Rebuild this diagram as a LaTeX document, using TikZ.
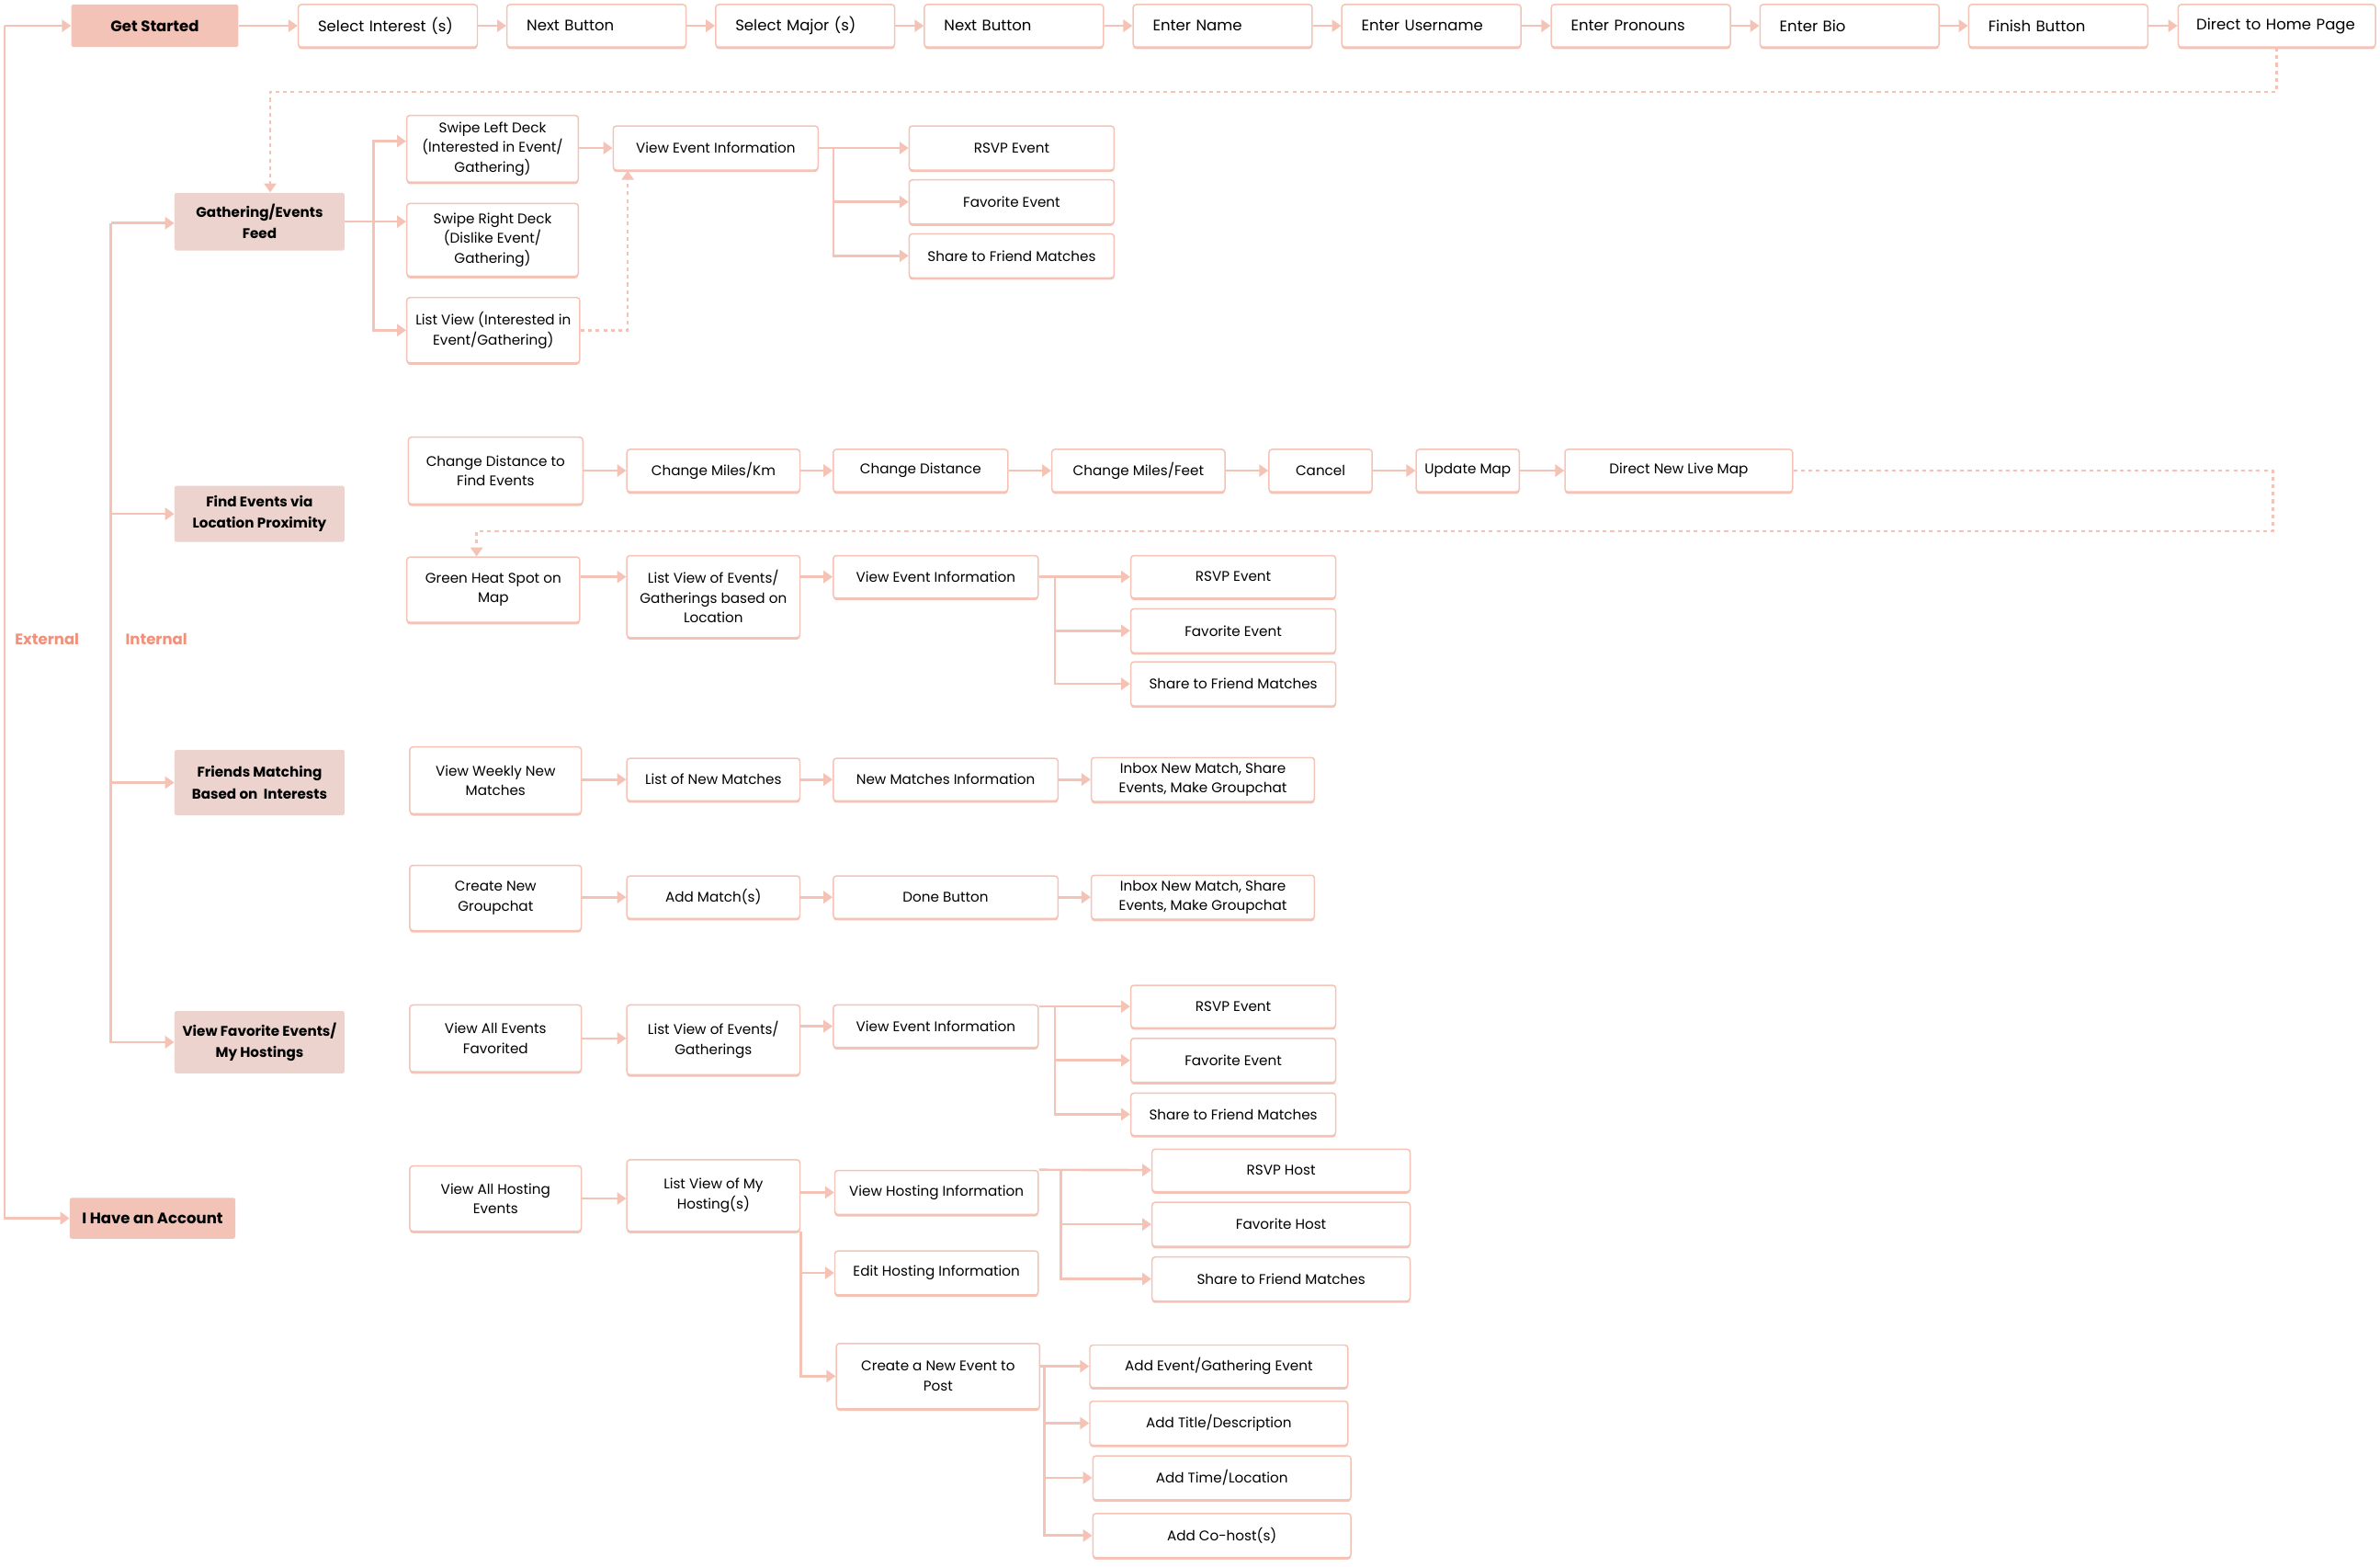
\documentclass[tikz,border=0pt]{standalone}
\usepackage{fontspec}
\setmainfont{Poppins}
\usepackage{tikz}
\usetikzlibrary{arrows.meta,shadows}

\definecolor{boxline}{HTML}{F4C3B6}
\definecolor{startfill}{HTML}{F2C3B6}
\definecolor{secfill}{HTML}{ECD3CD}
\definecolor{sidetext}{HTML}{EF917C}

\tikzset{
  box/.style={draw=boxline, line width=0.9pt, fill=white, rounded corners=2pt, align=center,
    inner sep=1.5pt, font=\fontsize{9.2}{13}\selectfont,
    drop shadow={shadow xshift=0pt, shadow yshift=-1.3pt, fill=boxline, opacity=1}},
  sz/.style 2 args={minimum width=#1pt, minimum height=#2pt},
  topbox/.style={box, font=\fontsize{10}{12}\selectfont, text width=92pt, align=left,
    inner xsep=13pt, minimum height=28pt},
  startbox/.style={fill=startfill, rounded corners=1pt, font=\bfseries\fontsize{10}{12}\selectfont},
  section/.style={fill=secfill, rounded corners=1pt, align=center, inner sep=2pt,
    font=\bfseries\fontsize{9.2}{14}\selectfont},
  link/.style={draw=boxline, line width=1.6pt},
  flow/.style={link, -{Triangle[length=6pt,width=8pt]}},
  jump/.style={flow, line width=1.6pt, dash pattern=on 2.5pt off 2.5pt},
  side/.style={text=sidetext, font=\bfseries\fontsize{10}{12}\selectfont}
}

\begin{document}
\begin{tikzpicture}[x=1pt,y=1pt]
\useasboundingbox (0,0) rectangle (1568,-1032);

% onboarding row
\node[startbox, sz={110}{28}] (gs) at (102,-17) {Get Started};
\node[topbox] (t1) at (255.5,-17) {Select Interest (s)};
\node[topbox] (t2) at (393,-17) {Next Button};
\node[topbox] (t3) at (530.5,-17) {Select Major (s)};
\node[topbox] (t4) at (668,-17) {Next Button};
\node[topbox] (t5) at (805.5,-17) {Enter Name};
\node[topbox] (t6) at (943,-17) {Enter Username};
\node[topbox] (t7) at (1081,-17) {Enter Pronouns};
\node[topbox] (t8) at (1218.5,-17) {Enter Bio};
\node[topbox] (t9) at (1356,-17) {Finish Button};
\node[topbox, text width=106pt, inner xsep=12pt] (t10) at (1500,-17) {Direct to Home Page};
\draw[flow] (gs) -- (t1);
\draw[flow] (t1) -- (t2);
\draw[flow] (t2) -- (t3);
\draw[flow] (t3) -- (t4);
\draw[flow] (t4) -- (t5);
\draw[flow] (t5) -- (t6);
\draw[flow] (t6) -- (t7);
\draw[flow] (t7) -- (t8);
\draw[flow] (t8) -- (t9);
\draw[flow] (t9) -- (t10);

% gathering/events feed
\node[section, sz={112}{38}] (gef) at (171,-146) {Gathering/Events\\Feed};
\node[box, sz={113}{44}] (sld) at (324.5,-98) {Swipe Left Deck\\(Interested in Event/\\Gathering)};
\node[box, sz={113}{48}] (srd) at (324.5,-158) {Swipe Right Deck\\(Dislike Event/\\Gathering)};
\node[box, sz={114}{43}] (lvg) at (325,-217.5) {List View (Interested in\\Event/Gathering)};
\node[box, sz={135}{29}] (vei1) at (471.5,-97.5) {View Event Information};
\node[box, sz={135}{29}] (rsvp1) at (666.5,-97.5) {RSVP Event};
\node[box, sz={135}{29}] (fav1) at (666.5,-133) {Favorite Event};
\node[box, sz={135}{29}] (share1) at (666.5,-168.5) {Share to Friend Matches};
\coordinate (gefb) at (246,-146);
\coordinate (vei1b) at (549,-97.5);
\draw[link] (gef.east) -- (gefb);
\draw[flow] (gefb) |- ([yshift=5pt]sld.west);
\draw[flow] (gefb) -- (srd.west |- gefb);
\draw[flow] (gefb) |- (lvg);
\draw[flow] (sld.east |- vei1) -- (vei1);
\draw[jump] (lvg.east) -| ([xshift=10pt]vei1.south west);
\draw[link] (vei1.east) -- (vei1b);
\draw[flow] (vei1b) -- (rsvp1);
\draw[flow] (vei1b) |- (fav1);
\draw[flow] (vei1b) |- (share1);
\draw[jump] (t10.south) -- ++(0,-29) -| ([xshift=7pt]gef.north);

% find events via location
\node[section, sz={112}{37}] (fe) at (171,-338.5) {Find Events via\\Location Proximity};
\node[box, sz={115}{44}] (cd) at (326.5,-310) {Change Distance to\\Find Events};
\node[box, sz={114}{28}] (cmk) at (470,-310) {Change Miles/Km};
\node[box, sz={115}{28}] (cdist) at (606.5,-310) {Change Distance};
\node[box, sz={114}{28}] (cmf) at (750,-310) {Change Miles/Feet};
\node[box, sz={68}{28}] (cancel) at (870,-310) {Cancel};
\node[box, sz={68}{28}] (upd) at (967,-310) {Update Map};
\node[box, sz={150}{28}] (dnlm) at (1106,-310) {Direct New Live Map};
\draw[flow] (cd) -- (cmk);
\draw[flow] (cmk) -- (cdist);
\draw[flow] (cdist) -- (cmf);
\draw[flow] (cmf) -- (cancel);
\draw[flow] (cancel) -- (upd);
\draw[flow] (upd) -- (dnlm);
\node[box, sz={114}{43}] (ghs) at (325,-388.5) {Green Heat Spot on\\Map};
\node[box, sz={114}{54}] (lve) at (470,-393) {List View of Events/\\Gatherings based on\\Location};
\node[box, sz={135}{28}] (vei2) at (616.5,-380) {View Event Information};
\node[box, sz={135}{28}] (rsvp2) at (812.5,-380) {RSVP Event};
\node[box, sz={135}{29}] (fav2) at (812.5,-415.5) {Favorite Event};
\node[box, sz={135}{29}] (share2) at (812.5,-450.5) {Share to Friend Matches};
\coordinate (vei2b) at (695,-380);
\draw[jump] (dnlm.east) -- ++(316,0) -- ++(0,-40) -| ([xshift=-11pt]ghs.north);
\draw[flow] (ghs.east |- vei2) -- (lve.west |- vei2);
\draw[flow] (lve.east |- vei2) -- (vei2);
\draw[link] (vei2.east) -- (vei2b);
\draw[flow] (vei2b) -- (rsvp2);
\draw[flow] (vei2b) |- (fav2);
\draw[flow] (vei2b) |- (share2);

% friends matching
\node[section, sz={112}{43}] (fm) at (171,-515.5) {Friends Matching\\Based on~ Interests};
\node[box, sz={113}{44}] (vwm) at (326.5,-514) {View Weekly New\\Matches};
\node[box, sz={114}{28}] (lnm) at (470,-513.5) {List of New Matches};
\node[box, sz={148}{28}] (nmi) at (623,-513.5) {New Matches Information};
\node[box, sz={147}{29}] (inb1) at (792.5,-513.5) {Inbox New Match, Share\\Events, Make Groupchat};
\draw[flow] (vwm.east |- lnm) -- (lnm);
\draw[flow] (lnm) -- (nmi);
\draw[flow] (nmi) -- (inb1);
\node[box, sz={113}{43}] (cng) at (326.5,-591.5) {Create New\\Groupchat};
\node[box, sz={114}{28}] (am) at (470,-591) {Add Match(s)};
\node[box, sz={148}{28}] (done) at (623,-591) {Done Button};
\node[box, sz={147}{29}] (inb2) at (792.5,-591) {Inbox New Match, Share\\Events, Make Groupchat};
\draw[flow] (cng.east |- am) -- (am);
\draw[flow] (am) -- (done);
\draw[flow] (done) -- (inb2);

% favorites and hostings
\node[section, sz={112}{41}] (vf) at (171,-686.5) {View Favorite Events/\\My Hostings};
\node[box, sz={113}{44}] (vaef) at (326.5,-684) {View All Events\\Favorited};
\node[box, sz={114}{46}] (lveg) at (470,-685) {List View of Events/\\Gatherings};
\node[box, sz={135}{28}] (vei3) at (616.5,-676) {View Event Information};
\node[box, sz={135}{28}] (rsvp3) at (812.5,-663) {RSVP Event};
\node[box, sz={135}{29}] (fav3) at (812.5,-698.5) {Favorite Event};
\node[box, sz={135}{28}] (share3) at (812.5,-734) {Share to Friend Matches};
\coordinate (vei3b) at (695,-663);
\draw[flow] (vaef) -- (lveg.west |- vaef);
\draw[flow] (lveg.east |- vei3) -- (vei3);
\draw[flow] (vei3.north east |- rsvp3) -- (rsvp3);
\draw[flow] (vei3b) |- (fav3);
\draw[flow] (vei3b) |- (share3);

% account holders
\node[startbox, sz={109}{27}] (iha) at (100.5,-802.5) {I Have an Account};
\node[box, sz={113}{43}] (vah) at (326.5,-789.5) {View All Hosting\\Events};
\node[box, sz={114}{47}] (lvmh) at (470,-787.5) {List View of My\\Hosting(s)};
\node[box, sz={134}{29}] (vhi) at (617,-785.5) {View Hosting Information};
\node[box, sz={134}{29}] (ehi) at (617,-838.5) {Edit Hosting Information};
\node[box, sz={134}{43}] (cne) at (618,-906.5) {Create a New Event to\\Post};
\node[box, sz={170}{28}] (rh) at (844,-771) {RSVP Host};
\node[box, sz={170}{29}] (fh) at (844,-806.5) {Favorite Host};
\node[box, sz={170}{29}] (sh) at (844,-842.5) {Share to Friend Matches};
\node[box, sz={170}{28}] (aeg) at (803,-900) {Add Event/Gathering Event};
\node[box, sz={170}{29}] (atd) at (803,-937.5) {Add Title/Description};
\node[box, sz={170}{29}] (atl) at (805,-973.5) {Add Time/Location};
\node[box, sz={170}{29}] (ach) at (805,-1011.5) {Add Co-host(s)};
\coordinate (vhib) at (699,-771);
\coordinate (cneb) at (688,-900);
\draw[flow] (vah) -- (lvmh.west |- vah);
\draw[flow] (lvmh.east |- vhi) -- (vhi);
\draw[flow] (lvmh.south east) |- (ehi);
\draw[flow] (lvmh.south east) |- (cne);
\draw[flow] (vhi.north east) -- (rh);
\draw[flow] (vhib) |- (fh);
\draw[flow] (vhib) |- (sh);
\draw[flow] (cne.east |- aeg) -- (aeg);
\draw[flow] (cneb) |- (atd);
\draw[flow] (cneb) |- (atl);
\draw[flow] (cneb) |- (ach);

% external / internal entry lines
\coordinate (ext) at (3,-17);
\coordinate (int) at (73,-147);
\draw[flow] (ext) -- (gs);
\draw[flow] (ext) |- (iha);
\draw[flow] (int) -- (gef.west |- int);
\draw[flow] (int) |- (fe);
\draw[flow] (int) |- (fm);
\draw[flow] (int) |- (vf);
\node[side] (extl) at (31,-421) {External};
\node[side] (intl) at (103,-421) {Internal};
\end{tikzpicture}
\end{document}
